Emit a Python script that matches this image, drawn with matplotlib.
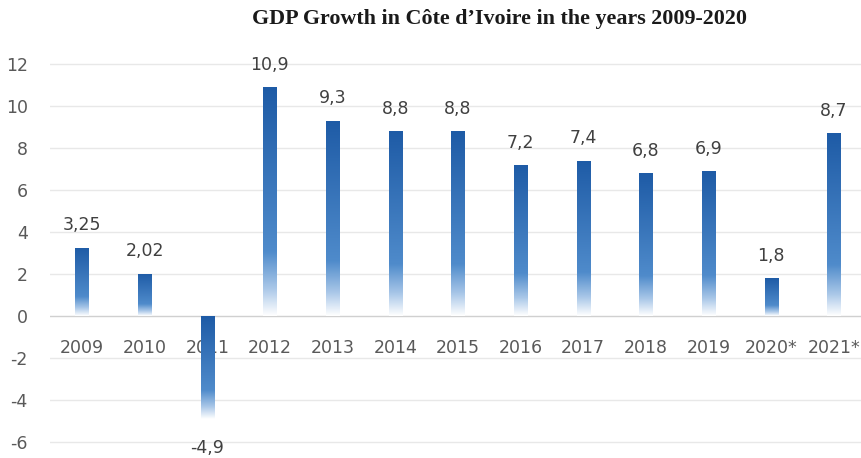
import numpy as np
import matplotlib.pyplot as plt
from matplotlib.colors import LinearSegmentedColormap

years = ['2009', '2010', '2011', '2012', '2013', '2014', '2015', '2016',
         '2017', '2018', '2019', '2020*', '2021*']
growth = [3.25, 2.02, -4.9, 10.9, 9.3, 8.8, 8.8, 7.2, 7.4, 6.8, 6.9, 1.8, 8.7]
labels = ['3,25', '2,02', '-4,9', '10,9', '9,3', '8,8', '8,8', '7,2', '7,4',
          '6,8', '6,9', '1,8', '8,7']
yticks = [-6, -4, -2, 0, 2, 4, 6, 8, 10, 12]

fig = plt.figure(figsize=(8.62, 4.58), dpi=100)
ax = fig.add_axes([0.058, 0.0, 0.942, 0.891])

# gradient: dark blue on top, fading to white at the bottom of each bar
cmap = LinearSegmentedColormap.from_list(
    'fade', [(0.0, '#1e5ba6'), (0.72, '#4f8bcb'), (0.88, '#a9c7e8'), (1.0, '#ffffff')])
grad = np.linspace(0, 1, 256).reshape(-1, 1)

x = np.arange(len(years))
bars = ax.bar(x, growth, width=0.21, color='none', edgecolor='none', zorder=3)
for b in bars:
    x0, y0, w, h = b.get_x(), b.get_y(), b.get_width(), b.get_height()
    lo, hi = min(y0, y0 + h), max(y0, y0 + h)
    im = ax.imshow(grad, cmap=cmap, aspect='auto', extent=[x0, x0 + w, lo, hi],
                   origin='upper', zorder=3, interpolation='bilinear')
    im.set_clip_path(b)

for xi, v, lab in zip(x, growth, labels):
    off = 16 if v >= 0 else -21
    ax.annotate(lab, (xi, v), xytext=(0, off), textcoords='offset points',
                ha='center', va='center', fontsize=12.5, color='#404040')

for xi, yr in zip(x, years):
    ax.text(xi, -1.52, yr, ha='center', va='center', fontsize=12.5, color='#595959',
            zorder=2)

for t in yticks:
    ax.axhline(t, color='#d0d0d0' if t == 0 else '#e8e8e8', lw=1, zorder=1)

ax.set_xlim(-0.51, 12.45)
ax.set_ylim(-6.762, 12.667)
ax.set_yticks(yticks)
ax.set_yticklabels([str(t) for t in yticks])
ax.tick_params(axis='y', length=0, pad=16, labelsize=12.5, labelcolor='#595959')
ax.set_xticks([])
for s in ax.spines.values():
    s.set_visible(False)

fig.text(0.58, 0.958, 'GDP Growth in Côte d\u2019Ivoire in the years 2009-2020',
         ha='center', va='center', fontsize=15.8, fontweight='bold',
         family=['Liberation Serif', 'DejaVu Serif'], color='#1a1a1a')

fig.savefig('out.png', dpi=100)
